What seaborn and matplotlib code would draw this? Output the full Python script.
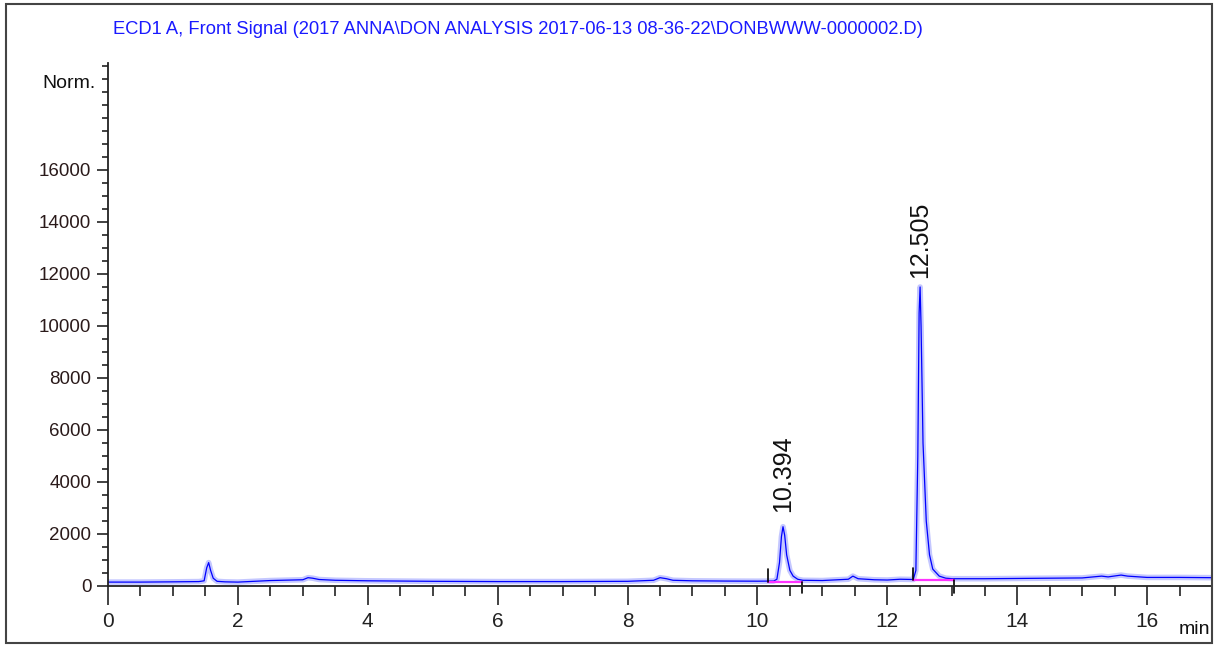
import matplotlib
matplotlib.use("Agg")
import matplotlib.pyplot as plt
from matplotlib.patches import Rectangle
from matplotlib.ticker import MultipleLocator
import numpy as np
import pandas as pd
import seaborn as sns

# ---- data ----
time_min = [0.0, 0.5, 1.0, 1.4, 1.48, 1.52, 1.55, 1.58, 1.62, 1.68, 1.8, 2.0,
            2.5, 3.0, 3.08, 3.15, 3.25, 3.5, 4.0, 4.5, 5.0, 6.0, 7.0, 8.0,
            8.4, 8.5, 8.6, 8.7, 9.0, 9.5, 10.0, 10.25, 10.3, 10.34, 10.37,
            10.394, 10.42, 10.45, 10.5, 10.55, 10.62, 10.7, 11.0, 11.4, 11.47,
            11.55, 11.8, 12.0, 12.2, 12.4, 12.44, 12.47, 12.49, 12.505, 12.52,
            12.55, 12.6, 12.65, 12.7, 12.8, 12.9, 13.0, 13.5, 14.0, 14.5,
            15.0, 15.3, 15.4, 15.6, 15.7, 16.0, 16.5, 17.0]
signal = [150, 150, 160, 170, 200, 700, 900, 600, 300, 180, 160, 150,
          210, 240, 320, 300, 250, 220, 200, 190, 180, 170, 170, 180,
          220, 320, 280, 220, 200, 190, 185, 190, 260, 900, 1900,
          2280, 1950, 1200, 600, 380, 260, 220, 210, 260, 380,
          280, 240, 230, 260, 250, 600, 5000, 10500, 11500, 10000,
          5500, 2500, 1200, 650, 380, 300, 280, 280, 290, 300,
          310, 380, 350, 420, 380, 330, 330, 320]

peak_rt = [10.394, 12.505]
peak_labels = ["10.394", "12.505"]
peak_label_y = [2850, 11850]
base_start = [10.16, 12.39]
base_end = [10.69, 13.02]
base_level = [170, 230]

title = "ECD1 A, Front Signal (2017 ANNA\\DON ANALYSIS 2017-06-13 08-36-22\\DONBWWW-0000002.D)"

df = pd.DataFrame({"Time": time_min, "Signal": signal})

# ---- plotting ----
sns.set_style("white")
plt.rcParams["font.family"] = ["Liberation Sans", "DejaVu Sans"]

fig = plt.figure(figsize=(12.25, 6.45), dpi=100)
ax = fig.add_axes([108/1225, 59/645, 1104/1225, 523/645])

# light halo + thin line like the instrument printout
sns.lineplot(data=df, x="Time", y="Signal", ax=ax, color="#c4c7ff",
             linewidth=4.0, solid_capstyle="butt")
sns.lineplot(data=df, x="Time", y="Signal", ax=ax, color="#0000ff",
             linewidth=0.9)

# integration baselines and markers
for s, e, lvl in zip(base_start, base_end, base_level):
    ax.plot([s, e], [lvl, lvl], color="#ff33ff", lw=1.6)
    ax.plot([s, s], [lvl, lvl + 480], color="black", lw=1.2)
    ax.plot([e, e], [lvl, -260], color="black", lw=1.2, clip_on=False)

for rt, lab, ly in zip(peak_rt, peak_labels, peak_label_y):
    ax.text(rt, ly, lab, rotation=90, ha="center", va="bottom",
            fontsize=18, color="#111111")

ax.set_xlim(0, 17)
ax.set_ylim(0, 20115)
ax.xaxis.set_major_locator(MultipleLocator(2))
ax.xaxis.set_minor_locator(MultipleLocator(0.5))
ax.set_yticks(np.arange(0, 16001, 2000))
ax.yaxis.set_minor_locator(MultipleLocator(500))

ax.tick_params(axis="x", which="major", direction="out", length=14, width=1.2,
               pad=5, labelsize=15, colors="#222222")
ax.tick_params(axis="x", which="minor", direction="out", length=7, width=1.2,
               colors="#222222")
ax.tick_params(axis="y", which="major", direction="out", length=8, width=1.2,
               pad=4, labelsize=13.5, colors="#222222", labelcolor="#2a1a1a")
ax.tick_params(axis="y", which="minor", direction="out", length=4.3, width=1.2,
               colors="#222222")
ax.tick_params(bottom=True, left=True, which="both")

for side in ["top", "right"]:
    ax.spines[side].set_visible(False)
for side in ["left", "bottom"]:
    ax.spines[side].set_color("#222222")
    ax.spines[side].set_linewidth(1.3)

ax.set_xlabel("")
ax.set_ylabel("")

fig.text(96/1225, 1 - 84/645, "Norm.", ha="right", va="center",
         fontsize=14, color="#111111")
fig.text(1210/1225, 1 - 629/645, "min", ha="right", va="center",
         fontsize=14, color="#111111")
fig.text(113/1225, 1 - 29/645, title, ha="left", va="center",
         fontsize=13.2, color="#1a1aff")

# page frame
fig.patches.append(Rectangle((6/1225, 2/645), 1206/1225, 639/645,
                             transform=fig.transFigure, fill=False,
                             edgecolor="#444444", lw=1.5))

fig.savefig("out.png", dpi=100)
